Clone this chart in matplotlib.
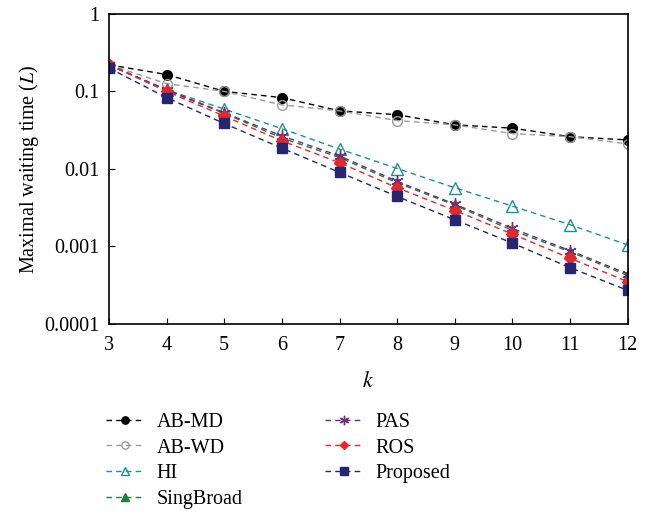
import numpy as np
import matplotlib.pyplot as plt

plt.rcParams['font.family'] = ['Liberation Serif', 'DejaVu Serif']
plt.rcParams['mathtext.fontset'] = 'stix'

k = [3, 4, 5, 6, 7, 8, 9, 10, 11, 12]

ab_md = [0.22, 0.165, 0.10, 0.083, 0.056, 0.050, 0.037, 0.0335, 0.026, 0.0236]
ab_wd = [0.22, 0.126, 0.10, 0.067, 0.056, 0.042, 0.037, 0.0285, 0.026, 0.021]
hi = [0.22, 0.105, 0.059, 0.033, 0.018, 0.0101, 0.0057, 0.0033, 0.0019, 0.00104]
singbroad = [0.22, 0.103, 0.052, 0.025, 0.0140, 0.0066, 0.0034, 0.0016, 0.00085, 0.00042]
pas = [0.22, 0.105, 0.053, 0.0266, 0.0147, 0.0069, 0.0035, 0.0017, 0.00088, 0.00044]
ros = [0.22, 0.100, 0.048, 0.023, 0.0120, 0.0057, 0.0029, 0.00144, 0.00070, 0.00035]
proposed = [0.20, 0.083, 0.0385, 0.0185, 0.0090, 0.0044, 0.0022, 0.0011, 0.00053, 0.00027]

fig = plt.figure(figsize=(6.56, 5.14), dpi=100)
ax = fig.add_axes([0.166, 0.370, 0.791, 0.603])

dash = (0, (4, 3))
ax.plot(k, ab_md, linestyle=dash, color='black', marker='o', markersize=7,
        markerfacecolor='black', lw=1, label='AB-MD')
ax.plot(k, ab_wd, linestyle=dash, color='#9a9a9a', marker='o', markersize=7,
        markerfacecolor='none', lw=1, label='AB-WD')
ax.plot(k, hi, linestyle=dash, color='#1f9090', marker='^', markersize=8,
        markerfacecolor='none', lw=1, label='HI')
ax.plot(k, singbroad, linestyle=dash, color='#1d7f3a', marker='^', markersize=7,
        markerfacecolor='#1d7f3a', lw=1, label='SingBroad')
ax.plot(k, pas, linestyle=dash, color='#6b2d7c', marker=(6, 2, 0), markersize=9,
        lw=1, label='PAS')
ax.plot(k, ros, linestyle=dash, color='#e8262a', marker='D', markersize=6,
        markerfacecolor='#e8262a', lw=1, label='ROS')
ax.plot(k, proposed, linestyle=dash, color='#262670', marker='s', markersize=7,
        markerfacecolor='#262670', lw=1, label='Proposed')

ax.set_yscale('log')
ax.set_xlim(3, 12)
ax.set_ylim(0.0001, 1)
ax.set_xticks(k)
ax.set_yticks([0.0001, 0.001, 0.01, 0.1, 1])
ax.set_yticklabels(['0.0001', '0.001', '0.01', '0.1', '1'])
ax.minorticks_off()
ax.tick_params(direction='in', length=4, labelsize=14.5)
ax.tick_params(axis='x', pad=9)
ax.tick_params(axis='y', pad=7)
for s in ax.spines.values():
    s.set_linewidth(1.2)

ax.set_xlabel('$k$', fontsize=16, labelpad=12)
ax.set_ylabel('Maximal waiting time ($L$)', fontsize=14.5, labelpad=2)

handles, labels = ax.get_legend_handles_labels()
fig.legend(handles, labels,
           loc='upper left', bbox_to_anchor=(0.134, 0.232), ncol=2,
           frameon=False, fontsize=14.5, handlelength=1.9, labelspacing=0.32,
           columnspacing=4.1, handletextpad=0.6, markerscale=0.75)

fig.savefig('out.png', dpi=100)
